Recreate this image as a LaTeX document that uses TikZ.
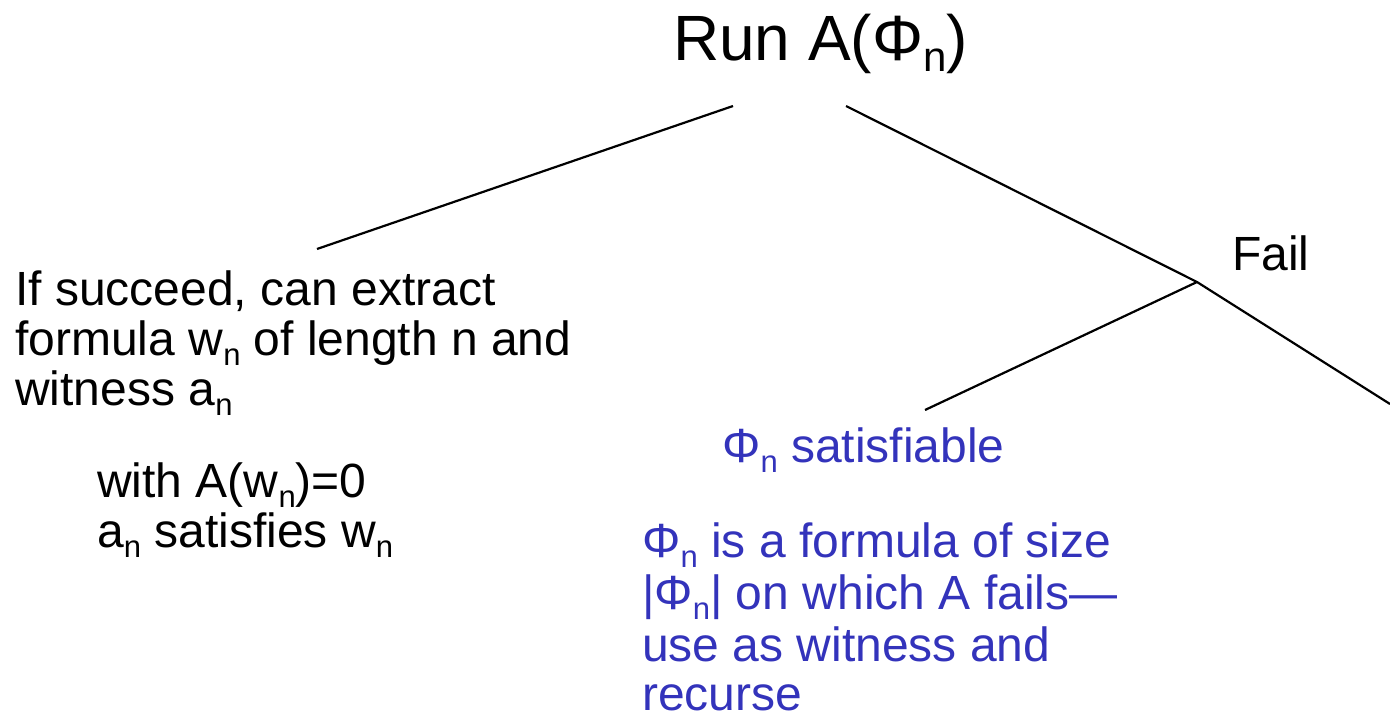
\documentclass[tikz,border=0pt]{standalone}
\usepackage{fontspec}
\setmainfont{Liberation Sans}
\definecolor{txtblue}{RGB}{51,51,187}
\newcommand\sbs[1]{\raisebox{-10pt}[\height][0pt]{\fontsize{31}{31}\selectfont #1}}
\newcommand\tsbs[1]{\raisebox{-12pt}[\height][0pt]{\fontsize{42}{42}\selectfont #1}}
\begin{document}
\begin{tikzpicture}[x=1pt,y=-1pt,
  txt/.style={inner sep=0pt, anchor=base west, font=\fontsize{48}{50}\selectfont},
  bluetxt/.style={txt, text=txtblue},
  ln/.style={line width=2.2pt}]
\useasboundingbox (0,0) rectangle (1390,717);
\node[txt, font=\fontsize{64}{70}\selectfont] (title) at (673,60) {Run A(Φ\tsbs{n})};
\node[txt] (l1) at (15,305) {If succeed, can extract};
\node[txt] (l2) at (15,355) {formula w\sbs{n} of length n and};
\node[txt] (l3) at (15,405) {witness a\sbs{n}};
\node[txt] (w1) at (97,497) {with A(w\sbs{n})=0};
\node[txt] (w2) at (97,547) {a\sbs{n} satisfies w\sbs{n}};
\node[txt] (fail) at (1232,270) {Fail};
\node[bluetxt] (sat) at (722,462) {Φ\sbs{n} satisfiable};
\node[bluetxt] (b1) at (642,557) {Φ\sbs{n} is a formula of size};
\node[bluetxt] (b2) at (642,609) {|Φ\sbs{n}| on which A fails—};
\node[bluetxt] (b3) at (642,661) {use as witness and};
\node[bluetxt] (b4) at (642,710) {recurse};
\coordinate (tl) at (733,106);
\coordinate (lt) at (317,249);
\coordinate (tr) at (846,106);
\coordinate (j) at (1197,282);
\coordinate (e) at (1390,404);
\coordinate (s) at (925,410);
\draw[ln] (tl) -- (lt);
\draw[ln] (tr) -- (j) -- (e);
\draw[ln] (j) -- (s);
\end{tikzpicture}
\end{document}
